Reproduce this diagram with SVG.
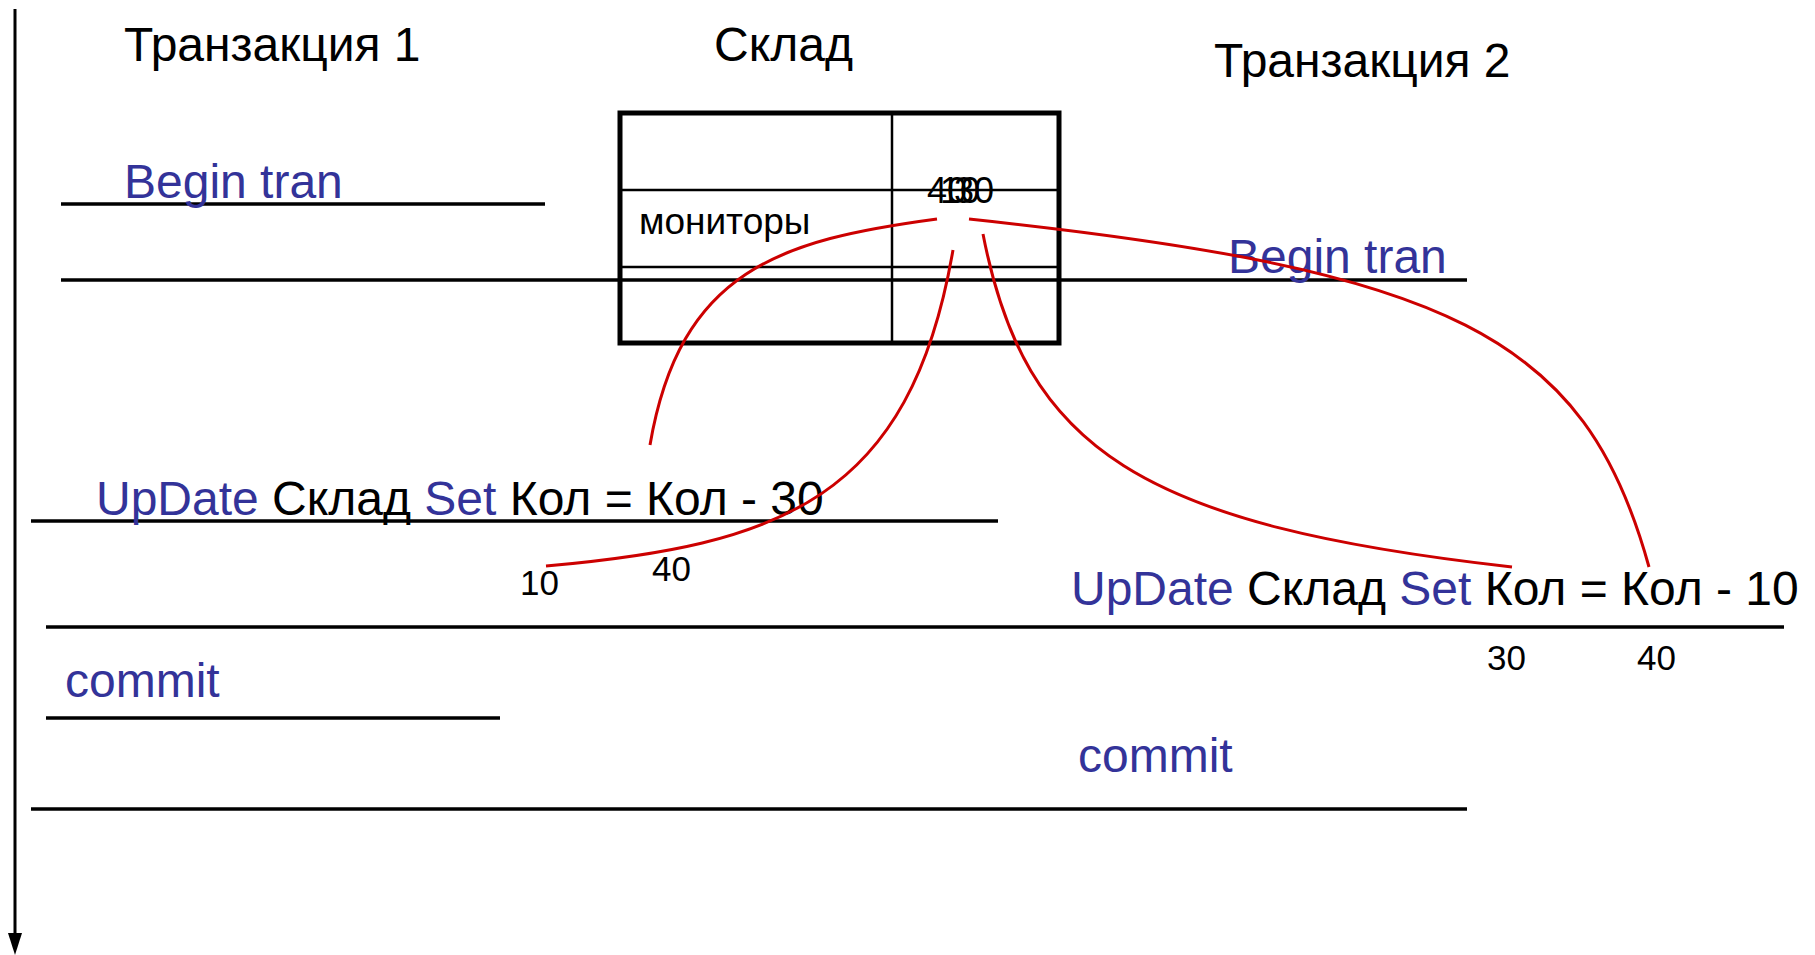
<svg xmlns="http://www.w3.org/2000/svg" width="1815" height="955" viewBox="0 0 1815 955">
  <style>
    text { font-family: "Liberation Sans", Arial, sans-serif; fill: #000; }
    .big { font-size: 48px; }
    .kw { fill: #333399; }
    .num { font-size: 35px; }
    .cell { font-size: 36px; }
    .item { font-size: 37px; }
    .rule { stroke: #000; stroke-width: 3.5; fill: none; }
    .thin { stroke: #000; stroke-width: 2.5; fill: none; }
    .link { stroke: #cc0000; stroke-width: 3; fill: none; }
  </style>
  <defs>
    <!-- arrowhead drawn along +x so orient="auto" points it down the axis -->
    <marker id="arrow" markerWidth="22" markerHeight="14" refX="1" refY="7" orient="auto" markerUnits="userSpaceOnUse" viewBox="0 0 22 14">
      <path d="M0,0 L22,7 L0,14 Z" fill="#000"/>
    </marker>
  </defs>
  <rect width="1815" height="955" fill="#fff"/>

  <!-- time axis -->
  <g id="time-axis">
    <line x1="15" y1="9" x2="15" y2="934" stroke="#000" stroke-width="3" marker-end="url(#arrow)"/>
  </g>

  <!-- column headings -->
  <g id="heading-t1"><text class="big" x="124" y="61">Транзакция 1</text></g>
  <g id="heading-store"><text class="big" x="714" y="61">Склад</text></g>
  <g id="heading-t2"><text class="big" x="1214" y="77">Транзакция 2</text></g>

  <!-- step separators -->
  <g id="rules">
    <line class="rule" x1="61" y1="204" x2="545" y2="204"/>
    <line class="rule" x1="61" y1="280" x2="1467" y2="280"/>
    <line class="rule" x1="31" y1="521" x2="998" y2="521"/>
    <line class="rule" x1="46" y1="627" x2="1784" y2="627"/>
    <line class="rule" x1="46" y1="718" x2="500" y2="718"/>
    <line class="rule" x1="31" y1="809" x2="1467" y2="809"/>
  </g>

  <!-- stock table -->
  <g id="store-table">
    <line class="thin" x1="620" y1="190" x2="1059" y2="190"/>
    <line class="thin" x1="620" y1="267" x2="1059" y2="267"/>
    <line class="thin" x1="892" y1="113" x2="892" y2="343"/>
    <rect x="620" y="113" width="439" height="230" fill="none" stroke="#000" stroke-width="5"/>
    <text class="item" x="639" y="234">мониторы</text>
    <text class="cell" x="927" y="203">40</text>
    <text class="cell" x="940" y="203">10</text>
    <text class="cell" x="954" y="203">30</text>
  </g>

  <!-- transaction 1 statements -->
  <g id="t1-begin"><text class="big kw" x="124" y="198">Begin tran</text></g>
  <g id="t1-update">
    <text class="big" x="96" y="515"><tspan class="kw">UpDate</tspan> Склад <tspan class="kw">Set</tspan> Кол = Кол - 30</text>
  </g>
  <g id="t1-values">
    <text class="num" x="520" y="595">10</text>
    <text class="num" x="652" y="581">40</text>
  </g>
  <g id="t1-commit"><text class="big kw" x="65" y="697">commit</text></g>

  <!-- transaction 2 statements -->
  <g id="t2-begin"><text class="big kw" x="1228" y="273">Begin tran</text></g>
  <g id="t2-update">
    <text class="big" x="1071" y="605"><tspan class="kw">UpDate</tspan> Склад <tspan class="kw">Set</tspan> Кол = Кол - 10</text>
  </g>
  <g id="t2-values">
    <text class="num" x="1487" y="670">30</text>
    <text class="num" x="1637" y="670">40</text>
  </g>
  <g id="t2-commit"><text class="big kw" x="1078" y="772">commit</text></g>

  <!-- value flow links -->
  <g id="connectors">
    <path class="link" d="M937,219 C780,240 680,270 650,445"/>
    <path class="link" d="M953,250 C910,500 780,545 546,566"/>
    <path class="link" d="M983,234 C1025,450 1140,525 1512,567"/>
    <path class="link" d="M969,219 C1450,270 1585,335 1649,567"/>
  </g>
</svg>
